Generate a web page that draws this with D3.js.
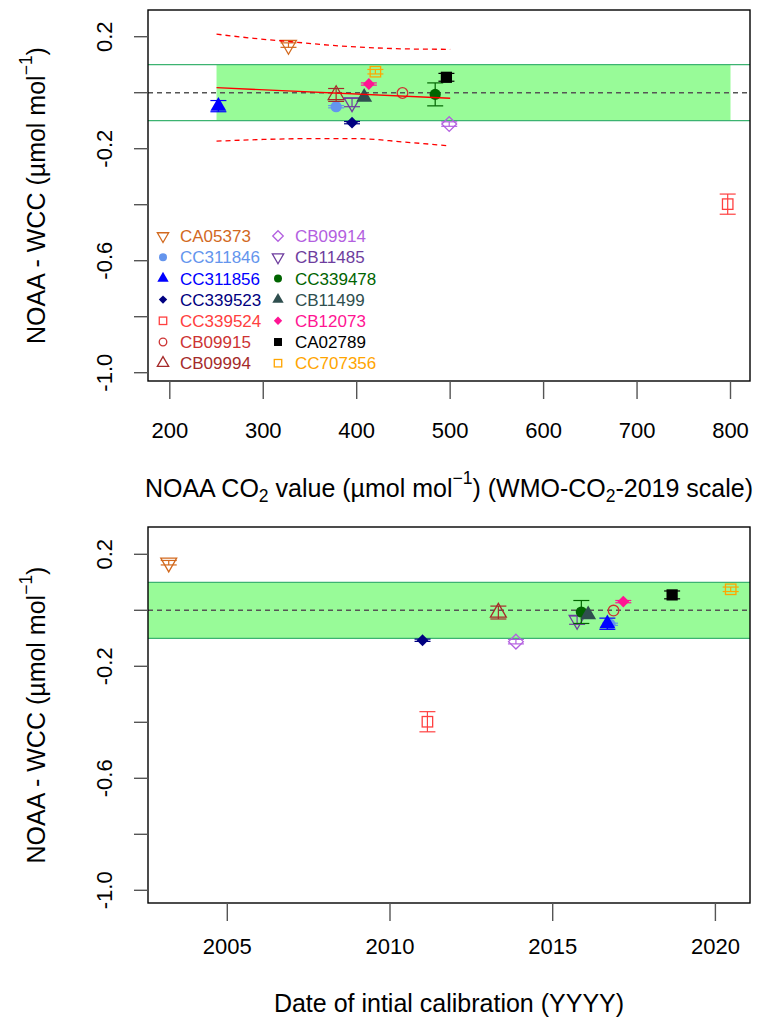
<!DOCTYPE html>
<html><head><meta charset="utf-8">
<script src="https://cdn.jsdelivr.net/npm/d3@7"></script>
<style>body{margin:0;background:#fff} text{font-family:"Liberation Sans",Arial,sans-serif}</style>
</head><body><svg id="c" width="775" height="1021"></svg>
<script>
// ---- data ----
const cylinders = ["CA05373","CC311846","CC311856","CC339523","CC339524","CB09915","CB09994",
                   "CB09914","CB11485","CC339478","CB11499","CB12073","CA02789","CC707356"];
const colors = ["#D2691E","#6495ED","#0000FF","#000080","#FF4040","#CD3333","#A52A2A",
                "#B35FE0","#6E3D9E","#006400","#2F4F4F","#FF1493","#000000","#FFA500"];
const pchs = [6,16,17,18,0,1,2,5,6,16,17,18,15,0];
const co2Values = [327,378,252,395,797,449,378,499,395,484,408,413,496,420];
const calDates = [2003.2,2016.76,2016.68,2011.0,2011.15,2016.87,2013.33,2013.87,2015.75,2015.88,2016.09,2017.17,2018.67,2020.47];
const diffs = [0.170,-0.050,-0.048,-0.107,-0.398,-0.001,-0.008,-0.112,-0.035,-0.006,-0.016,0.031,0.055,0.075];
const errs = [0.008,0.004,0.020,0.004,0.036,0.000,0.023,0.008,0.015,0.041,0.000,0.004,0.014,0.008];
const yTicks = [0.2,0,-0.2,-0.4,-0.6,-0.8,-1.0];
const yTickLabels = ["0.2","","-0.2","","-0.6","","-1.0"];
const co2Ticks = [200,300,400,500,600,700,800];
const dateTicks = [2005,2010,2015,2020];
const bandLimits = [-0.1,0.1];
const bandCo2Range = [250,800];
const fitX = [250,500], fitY = [0.018,-0.020];
const upperX = [250,290,330,370,420,460,500], upperY = [0.209,0.194,0.182,0.170,0.160,0.156,0.155];
const lowerX = [250,300,350,400,450,500], lowerY = [-0.173,-0.167,-0.164,-0.164,-0.176,-0.190];

// ---- drawing ----
const svg = d3.select("#c");
const FONT_TICK = 22, FONT_TITLE = 25, FONT_LEG = 17;

function symbol(g, pch, cx, cy, xc, col) {
  const sw = 1.3;
  const tri = (inv) => {
    const r = 1.555*xc, h = 1.347*xc, yc = 0.778*xc, s = inv ? -1 : 1;
    return `M${cx},${cy - s*r}L${cx+h},${cy + s*yc}L${cx-h},${cy + s*yc}Z`;
  };
  const dia = (d) => `M${cx},${cy-d}L${cx+d},${cy}L${cx},${cy+d}L${cx-d},${cy}Z`;
  switch (pch) {
    case 0: { const a = 0.886*xc; g.append("rect").attr("x",cx-a).attr("y",cy-a).attr("width",2*a).attr("height",2*a).attr("fill","none").attr("stroke",col).attr("stroke-width",sw); break; }
    case 15: { const a = 0.95*xc; g.append("rect").attr("x",cx-a).attr("y",cy-a).attr("width",2*a).attr("height",2*a).attr("fill",col); break; }
    case 1: g.append("circle").attr("cx",cx).attr("cy",cy).attr("r",0.9*xc).attr("fill","none").attr("stroke",col).attr("stroke-width",sw); break;
    case 16: g.append("circle").attr("cx",cx).attr("cy",cy).attr("r",0.95*xc).attr("fill",col); break;
    case 2: g.append("path").attr("d",tri(false)).attr("fill","none").attr("stroke",col).attr("stroke-width",sw); break;
    case 6: g.append("path").attr("d",tri(true)).attr("fill","none").attr("stroke",col).attr("stroke-width",sw); break;
    case 17: g.append("path").attr("d",tri(false)).attr("fill",col); break;
    case 5: g.append("path").attr("d",dia(1.253*xc)).attr("fill","none").attr("stroke",col).attr("stroke-width",sw); break;
    case 18: g.append("path").attr("d",dia(1.0*xc)).attr("fill",col); break;
  }
}

function panel(o) {
  const g = svg.append("g");
  const x = o.x, y = o.y;
  const [bx0,bx1,by0,by1] = o.box;
  const bandX0 = o.bandX ? x(o.bandX[0]) : bx0;
  const bandX1 = o.bandX ? x(o.bandX[1]) : bx1;
  g.append("rect").attr("x",bandX0).attr("y",y(bandLimits[1])).attr("width",bandX1-bandX0)
    .attr("height",y(bandLimits[0])-y(bandLimits[1])).attr("fill","#98FB98");
  bandLimits.forEach(v => g.append("line").attr("x1",bx0).attr("x2",bx1).attr("y1",y(v)).attr("y2",y(v))
    .attr("stroke","#3CB371").attr("stroke-width",1.3));
  g.append("line").attr("x1",bx0).attr("x2",bx1).attr("y1",y(0)).attr("y2",y(0))
    .attr("stroke","#555").attr("stroke-width",1.5).attr("stroke-dasharray","5,4");
  const xc = 5.9;
  cylinders.forEach((c,i) => {
    const px = x(o.xv[i]), py = y(diffs[i]);
    const col = colors[i];
    if (errs[i] > 0) {
      const t = y(diffs[i]+errs[i]), b = y(diffs[i]-errs[i]);
      g.append("line").attr("x1",px).attr("x2",px).attr("y1",t).attr("y2",b).attr("stroke",col).attr("stroke-width",1.2);
      [t,b].forEach(yy => g.append("line").attr("x1",px-8).attr("x2",px+8).attr("y1",yy).attr("y2",yy).attr("stroke",col).attr("stroke-width",1.2));
    }
    symbol(g, pchs[i], px, py, xc, col);
  });
  if (o.fit) {
    const ln = d3.line().x(d=>x(d[0])).y(d=>y(d[1]));
    g.append("path").attr("d",ln(d3.zip(fitX,fitY))).attr("fill","none").attr("stroke","#FF0000").attr("stroke-width",1.4);
    const lc = d3.line().x(d=>x(d[0])).y(d=>y(d[1])).curve(d3.curveMonotoneX);
    g.append("path").attr("d",lc(d3.zip(upperX,upperY))).attr("fill","none").attr("stroke","#FF0000").attr("stroke-width",1.3).attr("stroke-dasharray","5,4");
    g.append("path").attr("d",lc(d3.zip(lowerX,lowerY))).attr("fill","none").attr("stroke","#FF0000").attr("stroke-width",1.3).attr("stroke-dasharray","5,4");
  }
  g.append("rect").attr("x",bx0).attr("y",by0).attr("width",bx1-bx0).attr("height",by1-by0)
    .attr("fill","none").attr("stroke","#000").attr("stroke-width",1.4);
  yTicks.forEach((v,i) => {
    g.append("line").attr("x1",bx0-14).attr("x2",bx0).attr("y1",y(v)).attr("y2",y(v)).attr("stroke","#555").attr("stroke-width",1.4);
    if (yTickLabels[i]) g.append("text").attr("transform",`translate(104,${y(v)}) rotate(-90)`)
      .attr("text-anchor","middle").attr("dy","0.36em").attr("font-size",FONT_TICK).attr("fill","#000").text(yTickLabels[i]);
  });
  o.xTicks.forEach(v => {
    g.append("line").attr("x1",x(v)).attr("x2",x(v)).attr("y1",by1).attr("y2",by1+18).attr("stroke","#555").attr("stroke-width",1.4);
    g.append("text").attr("x",x(v)).attr("y",o.tickLabelY).attr("text-anchor","middle").attr("dy","0.36em")
      .attr("font-size",FONT_TICK).attr("fill","#000").text(v);
  });
  const yt = g.append("text").attr("transform",`translate(36,${(by0+by1)/2}) rotate(-90)`)
    .attr("text-anchor","middle").attr("dy","0.36em").attr("font-size",FONT_TITLE).attr("fill","#000");
  yt.append("tspan").text("NOAA - WCC (µmol mol");
  yt.append("tspan").attr("font-size",FONT_TITLE*0.7).attr("dy","-0.75em").text("−1");
  yt.append("tspan").attr("dy","0.52em").text(")");
  const xt = g.append("text").attr("x",(bx0+bx1)/2).attr("y",o.titleY).attr("text-anchor","middle")
    .attr("dy","0.36em").attr("font-size",FONT_TITLE).attr("fill","#000");
  o.xTitle(xt);
  return g;
}

const xTop = d3.scaleLinear().domain([200,800]).range([169.8,730.5]);
const yTop = d3.scaleLinear().domain([0.2,-1.0]).range([36.7,372.7]);
panel({
  x: xTop, y: yTop, box: [148,750,10,381], xv: co2Values, xTicks: co2Ticks, bandX: bandCo2Range, fit: true,
  tickLabelY: 430, titleY: 488,
  xTitle: t => {
    t.append("tspan").text("NOAA CO");
    t.append("tspan").attr("font-size",FONT_TITLE*0.7).attr("dy","0.3em").text("2");
    t.append("tspan").attr("dy","-0.21em").text(" value (µmol mol");
    t.append("tspan").attr("font-size",FONT_TITLE*0.7).attr("dy","-0.75em").text("−1");
    t.append("tspan").attr("dy","0.52em").text(") (WMO-CO");
    t.append("tspan").attr("font-size",FONT_TITLE*0.7).attr("dy","0.3em").text("2");
    t.append("tspan").attr("dy","-0.21em").text("-2019 scale)");
  }
});

const leg = svg.append("g");
cylinders.forEach((c,i) => {
  const col = Math.floor(i/7), row = i%7;
  const sx = col ? 278 : 163, tx = col ? 295 : 180, ly = 236 + row*21.2;
  symbol(leg, pchs[i], sx, ly, 4.2, colors[i]);
  leg.append("text").attr("x",tx).attr("y",ly).attr("dy","0.36em").attr("font-size",FONT_LEG)
    .attr("fill",colors[i]).text(c);
});

const xBot = d3.scaleLinear().domain([2005,2020]).range([227.3,715.4]);
const yBot = d3.scaleLinear().domain([0.2,-1.0]).range([554.3,890.3]);
panel({
  x: xBot, y: yBot, box: [148,750,527,903], xv: calDates, xTicks: dateTicks, bandX: null, fit: false,
  tickLabelY: 946, titleY: 1003,
  xTitle: t => t.text("Date of intial calibration (YYYY)")
});
</script></body></html>
